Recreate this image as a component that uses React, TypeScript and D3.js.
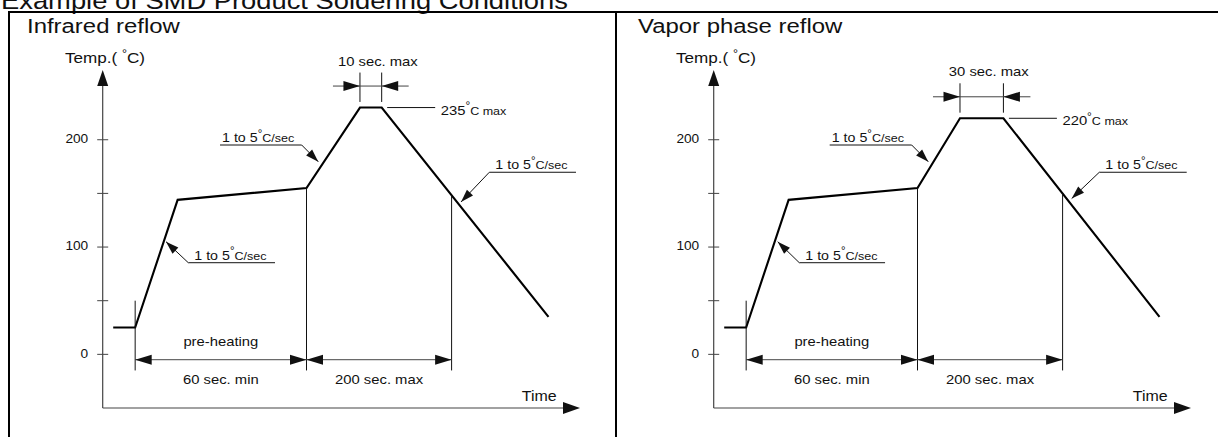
import React from "react";
import * as d3 from "d3";

const W = 1218;
const H = 437;
const FONT = "'Liberation Sans', Arial, Helvetica, sans-serif";
const STRETCH = 1.14; // the source lettering is a little wide

const pageTitle = "Example of SMD Product Soldering Conditions";
const panelTitles = ["Infrared reflow", "Vapor phase reflow"];
const yMajorTicks = [0, 100, 200];
const yMinorTicks = [50, 150];

// temperature profile, time is schematic (0..100 along the time axis)
const irTime = [2.2, 6.8, 15.7, 42.7, 53.9, 58.45, 93.4];
const irTemp = [25, 25, 144, 155, 230, 230, 35];
const vpTime = [2.2, 6.8, 15.7, 42.7, 51.6, 60.7, 93.4];
const vpTemp = [25, 25, 144, 155, 220, 220, 35];

const guideTimes = [6.8, 42.7, 73.1];
const stageNames = ["pre-heating", ""];
const stageLimits = ["60 sec. min", "200 sec. max"];
const peakLimits = ["235", "220"];
const dwellLimits = ["10 sec. max", "30 sec. max"];
const rateText = "1 to 5";

// rate notes: arrow tip (t, temp), elbow (t, temp), end of shelf (t)
const irNotes = [
  { tip: [13.26, 105], elbow: [17.93, 85.4], end: 36.1 },
  { tip: [45.17, 179.5], elbow: [41.69, 195.1], end: 24.58 },
  { tip: [75.07, 142], elbow: [81.0, 169.7], end: 99.16 },
];
const vpNotes = [
  { tip: [13.41, 105], elbow: [17.93, 85.4], end: 35.9 },
  { tip: [44.96, 179.5], elbow: [41.48, 195.1], end: 24.3 },
  { tip: [75.0, 145.2], elbow: [80.79, 169.7], end: 99.1 },
];

const arrowHead = (tip, from, len, half) => {
  const dx = tip[0] - from[0];
  const dy = tip[1] - from[1];
  const d = Math.hypot(dx, dy) || 1;
  const ux = dx / d;
  const uy = dy / d;
  const bx = tip[0] - ux * len;
  const by = tip[1] - uy * len;
  return `${tip[0]},${tip[1]} ${bx - uy * half},${by + ux * half} ${bx + uy * half},${by - ux * half}`;
};

const Label = ({ x, y, size, anchor = "start", children }) => (
  <text
    transform={`translate(${x},${y}) scale(${STRETCH},1)`}
    fontSize={size}
    fontFamily={FONT}
    fill="#111"
    textAnchor={anchor}
  >
    {children}
  </text>
);

// "1 to 5 °C/sec" style text with a raised degree sign
const DegLabel = ({ x, y, main, unit, size, unitSize, anchor = "start" }) => (
  <Label x={x} y={y} size={size} anchor={anchor}>
    {main}
    <tspan fontSize={size * 0.8} dy={-size * 0.44}>°</tspan>
    <tspan fontSize={unitSize} dy={size * 0.44}>{unit}</tspan>
  </Label>
);

function Panel({ ox, idx, time, temp, notes }) {
  const x = d3.scaleLinear().domain([0, 100]).range([ox, ox + 477.3]);
  const y = d3.scaleLinear().domain([-50, 265]).range([408, 70]);
  const at = d3.scaleLinear().domain(time).range(temp);
  const pts = time.map((t, i) => [x(t), y(temp[i])]);
  const profile = d3.line()(pts);

  const x0 = x(0);
  const y0 = y(-50);
  const yTop = y(265);
  const xEnd = x(100);
  const dimY = y(-5);
  const guides = guideTimes.map((g) => ({
    gx: x(g),
    top: y(Math.max(at(g), 50)),
    bottom: y(-15),
  }));

  const p0 = pts[4];
  const p1 = pts[5];
  const py = p0[1];
  const axisColor = "#444";

  return (
    <g>
      <Label x={ox - 75.7} y={33} size={21}>{panelTitles[idx]}</Label>

      {/* axes */}
      <line x1={x0} y1={y0} x2={x0} y2={yTop + 14} stroke={axisColor} strokeWidth={1.2} />
      <polygon points={arrowHead([x0, yTop], [x0, y0], 16, 5.5)} fill="#111" />
      <line x1={x0} y1={y0} x2={xEnd - 14} y2={y0} stroke={axisColor} strokeWidth={1.2} />
      <polygon points={arrowHead([xEnd, y0], [x0, y0], 17, 6)} fill="#111" />
      {[...yMajorTicks, ...yMinorTicks].map((v) => (
        <line key={v} x1={x0 - 5.5} x2={x0 + 5.5} y1={y(v)} y2={y(v)} stroke={axisColor} strokeWidth={1} />
      ))}
      {yMajorTicks.map((v) => (
        <Label key={v} x={x0 - 14.5} y={y(v) + 3.3} size={12} anchor="end">{v}</Label>
      ))}
      <Label x={ox - 37.7} y={63.3} size={15}>
        {"Temp.( "}
        <tspan fontSize={11} dy={-6}>°</tspan>
        <tspan dy={6}>C)</tspan>
      </Label>
      <Label x={xEnd - 23.3} y={400.7} size={14} anchor="end">Time</Label>

      {/* profile */}
      <path d={profile} fill="none" stroke="#000" strokeWidth={2.1} strokeLinejoin="miter" />

      {/* stage guides and dimensions */}
      {guides.map((g, i) => (
        <line key={i} x1={g.gx} x2={g.gx} y1={g.top} y2={g.bottom} stroke="#111" strokeWidth={1} />
      ))}
      {stageLimits.map((lab, i) => {
        const a = guides[i].gx;
        const b = guides[i + 1].gx;
        const mid = (a + b) / 2;
        return (
          <g key={i}>
            <line x1={a} x2={b} y1={dimY} y2={dimY} stroke={axisColor} strokeWidth={1} />
            <polygon points={arrowHead([a, dimY], [b, dimY], 16.5, 5)} fill="#111" />
            <polygon points={arrowHead([b, dimY], [a, dimY], 16.5, 5)} fill="#111" />
            {stageNames[i] && (
              <Label x={mid} y={dimY - 13.3} size={13} anchor="middle">{stageNames[i]}</Label>
            )}
            <Label x={mid} y={dimY + 24} size={13} anchor="middle">{lab}</Label>
          </g>
        );
      })}

      {/* peak dwell dimension */}
      {[p0[0], p1[0]].map((px, i) => (
        <line key={i} x1={px} x2={px} y1={py - 5.6} y2={py - 35} stroke="#111" strokeWidth={1} />
      ))}
      <line x1={p0[0] - 27} x2={p1[0] + 27} y1={py - 21.5} y2={py - 21.5} stroke={axisColor} strokeWidth={1} />
      <polygon points={arrowHead([p0[0], py - 21.5], [p0[0] - 30, py - 21.5], 16.5, 5)} fill="#111" />
      <polygon points={arrowHead([p1[0], py - 21.5], [p1[0] + 30, py - 21.5], 16.5, 5)} fill="#111" />
      <Label x={(p0[0] + p1[0]) / 2 + 7} y={py - 42} size={13} anchor="middle">{dwellLimits[idx]}</Label>

      {/* peak temperature */}
      <line x1={p1[0] + 5.5} x2={p1[0] + 53.5} y1={py} y2={py} stroke="#111" strokeWidth={1} />
      <DegLabel x={p1[0] + 59} y={py + 7} main={peakLimits[idx]} unit="C max" size={13} unitSize={11} />

      {/* rate notes */}
      {notes.map((n, i) => {
        const tip = [x(n.tip[0]), y(n.tip[1])];
        const el = [x(n.elbow[0]), y(n.elbow[1])];
        const ex = x(n.end);
        const left = Math.min(el[0], ex);
        const pad = ex > el[0] ? 6 : 2;
        return (
          <g key={i}>
            <line x1={el[0]} y1={el[1]} x2={tip[0]} y2={tip[1]} stroke="#111" strokeWidth={1} />
            <polygon points={arrowHead(tip, el, 13, 4.2)} fill="#111" />
            <line x1={el[0]} x2={ex} y1={el[1]} y2={el[1]} stroke="#111" strokeWidth={1} />
            <DegLabel x={left + pad} y={el[1] - 3} main={rateText} unit="C/sec" size={12.5} unitSize={11} />
          </g>
        );
      })}
    </g>
  );
}

export default function App() {
  return (
    <svg
      width={W}
      height={H}
      style={{ position: "absolute", left: 0, top: 0, background: "#fff" }}
    >
      {/* the page heading is clipped by the top edge, as in the source */}
      <Label x={1} y={8.5} size={24}>{pageTitle}</Label>
      <line x1={8} x2={W} y1={12} y2={12} stroke="#000" strokeWidth={2} />
      <line x1={9} x2={9} y1={11} y2={H} stroke="#000" strokeWidth={2} />
      <line x1={616} x2={616} y1={11} y2={H} stroke="#000" strokeWidth={2} />
      <Panel ox={102.7} idx={0} time={irTime} temp={irTemp} notes={irNotes} />
      <Panel ox={713.7} idx={1} time={vpTime} temp={vpTemp} notes={vpNotes} />
    </svg>
  );
}
